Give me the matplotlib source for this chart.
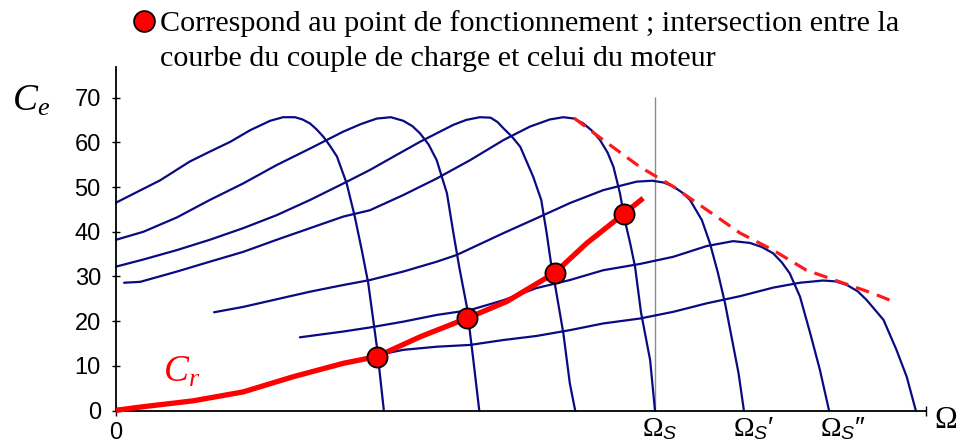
import numpy as np
import matplotlib
matplotlib.use('Agg')
import matplotlib.pyplot as plt

plt.rcParams['mathtext.fontset'] = 'custom'
plt.rcParams['mathtext.rm'] = 'Liberation Serif'
plt.rcParams['mathtext.it'] = 'Liberation Serif:italic'
plt.rcParams['mathtext.sf'] = 'Liberation Sans:italic'

# vitesse en % de Omega_s (Omega_s = 100), couple en N.m
c1_x = [0, 8.2, 13.7, 17.4, 21.2, 24.9, 28.6, 31.0, 33.2, 34.6, 36.0, 37.2, 38.5, 39.7, 41.0, 42.8, 44.3, 45.6, 46.8, 48.4, 49.7]
c1_y = [46.5, 51.5, 55.7, 57.9, 60.1, 62.7, 64.8, 65.6, 65.6, 65.1, 64.2, 62.9, 61.2, 59.2, 56.8, 50.8, 43.4, 35.9, 28.5, 14.3, 0]

c2_x = [0, 5.1, 11.3, 17.4, 23.6, 29.8, 36.0, 42.2, 45.5, 48.4, 51.0, 53.3, 55.0, 56.4, 58.0, 59.5, 61.4, 62.6, 63.7, 65.1, 66.3, 67.4]
c2_y = [38.2, 40.0, 43.2, 47.1, 50.8, 54.9, 58.6, 62.4, 64.1, 65.3, 65.6, 64.8, 63.6, 62.0, 59.5, 56.0, 48.6, 39.7, 32.0, 23.2, 11.3, 0]

c3_x = [0, 5.1, 11.3, 17.4, 23.6, 29.8, 36.0, 42.2, 47.1, 51.8, 56.4, 62.6, 65.0, 67.5, 69.5, 70.8, 71.9, 73.5, 75.0, 77.4, 78.9, 79.9, 80.8, 81.4, 83.0, 84.2, 85.2]
c3_y = [32.2, 33.8, 35.9, 38.2, 40.8, 43.7, 47.1, 50.8, 53.8, 57.0, 60.1, 63.9, 65.0, 65.6, 65.5, 64.5, 63.1, 61.2, 59.0, 52.3, 47.1, 39.7, 32.2, 28.5, 17.3, 6.1, 0]

c4_x = [1.5, 4.5, 11.3, 17.4, 23.6, 29.8, 36.0, 42.2, 47.1, 53.3, 59.5, 65.7, 71.9, 76.8, 80.5, 83.0, 85.0, 86.7, 88.3, 89.8, 91.2, 92.3, 93.5, 94.4, 95.4, 96.3, 97.4, 99.1, 100]
c4_y = [28.6, 28.8, 31.1, 33.3, 35.5, 38.2, 40.8, 43.4, 44.8, 48.2, 51.9, 56.0, 60.5, 63.5, 65.1, 65.6, 65.3, 64.2, 62.6, 60.5, 57.7, 54.5, 48.6, 42.6, 37.4, 32.2, 22.0, 11.3, 0]

c5_x = [18.2, 23.6, 29.8, 36.0, 42.2, 47.1, 53.3, 59.5, 63.2, 71.9, 78.0, 84.2, 90.4, 96.6, 99.5, 101.6, 103.4, 105.0, 106.5, 108.7, 110.2, 111.7, 113.0, 114.2, 115.5, 116.5]
c5_y = [22.0, 23.2, 24.9, 26.6, 28.1, 29.2, 31.1, 33.3, 34.8, 39.7, 43.0, 46.4, 49.3, 51.2, 51.4, 51.0, 50.1, 48.8, 47.1, 42.6, 37.4, 30.7, 24.0, 16.5, 8.4, 0]

c6_x = [34.1, 42.2, 47.1, 53.3, 59.5, 65.7, 71.9, 78.0, 84.2, 90.4, 97.2, 103.4, 109.6, 114.5, 117.6, 119.8, 121.9, 123.5, 125.0, 126.9, 128.8, 130.6, 132.3]
c6_y = [16.4, 17.7, 18.6, 19.9, 21.4, 22.5, 24.7, 27.4, 29.2, 31.4, 32.8, 34.4, 36.8, 37.9, 37.5, 36.6, 35.2, 33.2, 30.7, 25.5, 17.3, 9.1, 0]

c7_x = [48.4, 53.3, 59.5, 65.7, 71.9, 78.0, 84.2, 90.4, 97.2, 103.4, 109.6, 115.8, 121.9, 126.9, 131.2, 133.5, 135.6, 137.6, 139.3, 142.4, 144.8, 146.7, 148.4]
c7_y = [12.4, 13.6, 14.3, 14.7, 15.8, 16.7, 18.0, 19.5, 20.6, 22.1, 24.0, 25.6, 27.5, 28.6, 29.1, 28.9, 28.1, 26.7, 24.7, 20.3, 13.6, 7.6, 0]

# couple resistant Cr
cr_x = [0, 5.1, 14.3, 23.6, 32.9, 42.2, 48.4, 56.4, 65.2, 72.5, 81.4, 87.3, 94.2, 97.8]
cr_y = [0.1, 0.9, 2.2, 4.2, 7.6, 10.6, 12.1, 16.5, 20.7, 24.4, 30.8, 37.4, 44.0, 47.5]

# points de fonctionnement
op_x = [48.4, 65.2, 81.4, 94.2]
op_y = [12.1, 20.7, 30.8, 44.0]

# enveloppe des couples max (pointilles)
env_x = [85.0, 90.4, 97.2, 103.4, 109.6, 115.8, 121.9, 128.1, 134.3, 140.5, 144.2]
env_y = [65.4, 60.5, 54.5, 50.1, 44.9, 39.7, 35.9, 31.4, 28.8, 26.2, 24.4]

omega_s = [100, 116.5, 132.3]
omega_lab = [r'$\Omega_\mathsf{S}$', r'$\Omega_\mathsf{S}$' + '\u2032', r'$\Omega_\mathsf{S}$' + '\u2033']
y_ticks = [0, 10, 20, 30, 40, 50, 60, 70]
y_top = 76.8
x_end = 150.3
gray_top = 70.2

fig = plt.figure(figsize=(9.62, 4.48), dpi=100)
ax = fig.add_axes([0, 0, 1, 1])
ax.set_xlim(-21.52, 156.96)
ax.set_ylim(-8.34, 91.80)

blue = '#0a0a82'
for xs, ys in [(c1_x, c1_y), (c2_x, c2_y), (c3_x, c3_y), (c4_x, c4_y),
               (c5_x, c5_y), (c6_x, c6_y), (c7_x, c7_y)]:
    ax.plot(xs, ys, color=blue, lw=1.6, solid_capstyle='round',
            solid_joinstyle='round', zorder=2)

ax.vlines(omega_s[0], 0, gray_top, color='#8c8c8c', lw=1.0, zorder=1)

ax.plot(env_x, env_y, color='#ff1a1a', lw=2.3, dashes=(4.3, 2.6), zorder=3)
ax.plot(cr_x, cr_y, color='#ff0000', lw=3.8, solid_capstyle='butt',
        solid_joinstyle='round', zorder=4)
ax.plot(op_x, op_y, 'o', ms=14.5, mfc='#ff0000', mec='black', mew=1.3, zorder=5)

for sp in ['top', 'right']:
    ax.spines[sp].set_visible(False)
ax.spines['left'].set_position(('data', 0))
ax.spines['bottom'].set_position(('data', 0))
ax.spines['left'].set_bounds(0, y_top)
ax.spines['bottom'].set_bounds(0, x_end)
ax.spines['left'].set_linewidth(1.3)
ax.spines['bottom'].set_linewidth(1.3)

ax.set_yticks(y_ticks)
ax.set_yticklabels([str(v) for v in y_ticks])
ax.tick_params(axis='y', direction='inout', length=5.8, width=1.0, pad=8.0,
               labelsize=17)
ax.set_xticks([0, x_end])
ax.set_xticklabels(['0', ''])
ax.tick_params(axis='x', direction='inout', length=7, width=1.0, pad=5.0,
               labelsize=17)
for lab in ax.get_xticklabels() + ax.get_yticklabels():
    lab.set_family('Liberation Sans')

offs = [-9.4, -7.9, -6.5]
for xv, lab, dx in zip(omega_s, omega_lab, offs):
    ax.annotate(lab, xy=(xv, 0), xytext=(dx, -18.2), textcoords='offset points',
                ha='left', va='baseline', fontsize=20,
                family=['Liberation Sans', 'DejaVu Sans'])

ax.annotate(r'$\Omega$', xy=(x_end, 0), xytext=(5.5, -6), textcoords='offset points',
            ha='left', va='center', fontsize=22)

fig.text(12 / 962, 1 - 110.7 / 448, r'$C_e$', fontsize=27, va='baseline', ha='left')
ax.text(8.7, 6.5, r'$C_r$', fontsize=27, color='#ff0000', va='baseline', ha='left')

# legende du point rouge
ax.plot([144.5 / 962], [1 - 21 / 448], 'o', ms=15, mfc='#ff0000', mec='black', mew=1.3,
        transform=fig.transFigure, clip_on=False)
fig.text(160 / 962, 1 - 30.7 / 448,
         'Correspond au point de fonctionnement ; intersection entre la',
         fontsize=21.7, family='Liberation Serif', va='baseline', ha='left')
fig.text(160 / 962, 1 - 65.7 / 448,
         'courbe du couple de charge et celui du moteur',
         fontsize=21.7, family='Liberation Serif', va='baseline', ha='left')

fig.savefig('out.png', dpi=100)
